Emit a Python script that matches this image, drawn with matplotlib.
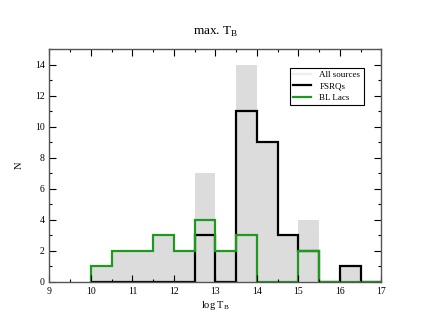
import numpy as np
import matplotlib.pyplot as plt
from matplotlib.ticker import MultipleLocator

plt.rcParams['font.family'] = ['Liberation Serif', 'DejaVu Serif']
plt.rcParams['mathtext.fontset'] = 'custom'
plt.rcParams['mathtext.rm'] = 'Liberation Serif'

# bin edges (log T_B) and counts per bin
edges = np.arange(10.0, 17.01, 0.5)
all_counts = [1, 2, 2, 3, 2, 7, 2, 14, 9, 3, 4, 0, 1, 0]
fsrq_counts = [0, 0, 0, 0, 0, 3, 0, 11, 9, 3, 2, 0, 1, 0]
bllac_counts = [1, 2, 2, 3, 2, 4, 2, 3, 0, 0, 2, 0, 0, 0]

gray = '#dcdcdc'
green = '#1e9a1e'

fig = plt.figure(figsize=(4.3, 3.32), dpi=100)
ax = fig.add_axes([0.115, 0.151, 0.772, 0.701])

ax.bar(edges[:-1], all_counts, width=0.5, align='edge', color=gray,
       linewidth=0, label='All sources')
ax.stairs(fsrq_counts, edges, color='black', linewidth=1.6, label='FSRQs')
ax.stairs(bllac_counts, edges, color=green, linewidth=1.6, label='BL Lacs')

ax.set_xlim(9, 17)
ax.set_ylim(0, 15)
ax.xaxis.set_major_locator(MultipleLocator(1))
ax.xaxis.set_minor_locator(MultipleLocator(0.5))
ax.yaxis.set_major_locator(MultipleLocator(2))
ax.yaxis.set_minor_locator(MultipleLocator(1))
ax.tick_params(which='both', direction='in', top=True, right=True,
               labelsize=7, width=0.8)
ax.tick_params(which='major', length=5)
ax.tick_params(which='minor', length=2.5)
for s in ax.spines.values():
    s.set_linewidth(1.0)
    s.set_color('#555555')

ax.set_title(r'max. T$_\mathregular{B}$', fontsize=9.5, pad=10)
ax.set_xlabel(r'log T$_\mathregular{B}$', fontsize=7.5, labelpad=2)
ax.set_ylabel('N', fontsize=7.5, labelpad=8)

h = [plt.Line2D([], [], color='#eeeeee', lw=1.6),
     plt.Line2D([], [], color='black', lw=1.6),
     plt.Line2D([], [], color=green, lw=1.6)]
leg = ax.legend(h, ['All sources', 'FSRQs', 'BL Lacs'], loc='upper right',
                bbox_to_anchor=(0.96, 0.94), fontsize=6.5, fancybox=False,
                framealpha=1, edgecolor='black', handlelength=2.0,
                borderpad=0.35, labelspacing=0.35, handletextpad=0.9)
leg.get_frame().set_linewidth(0.8)

fig.savefig('out.png', dpi=100)
